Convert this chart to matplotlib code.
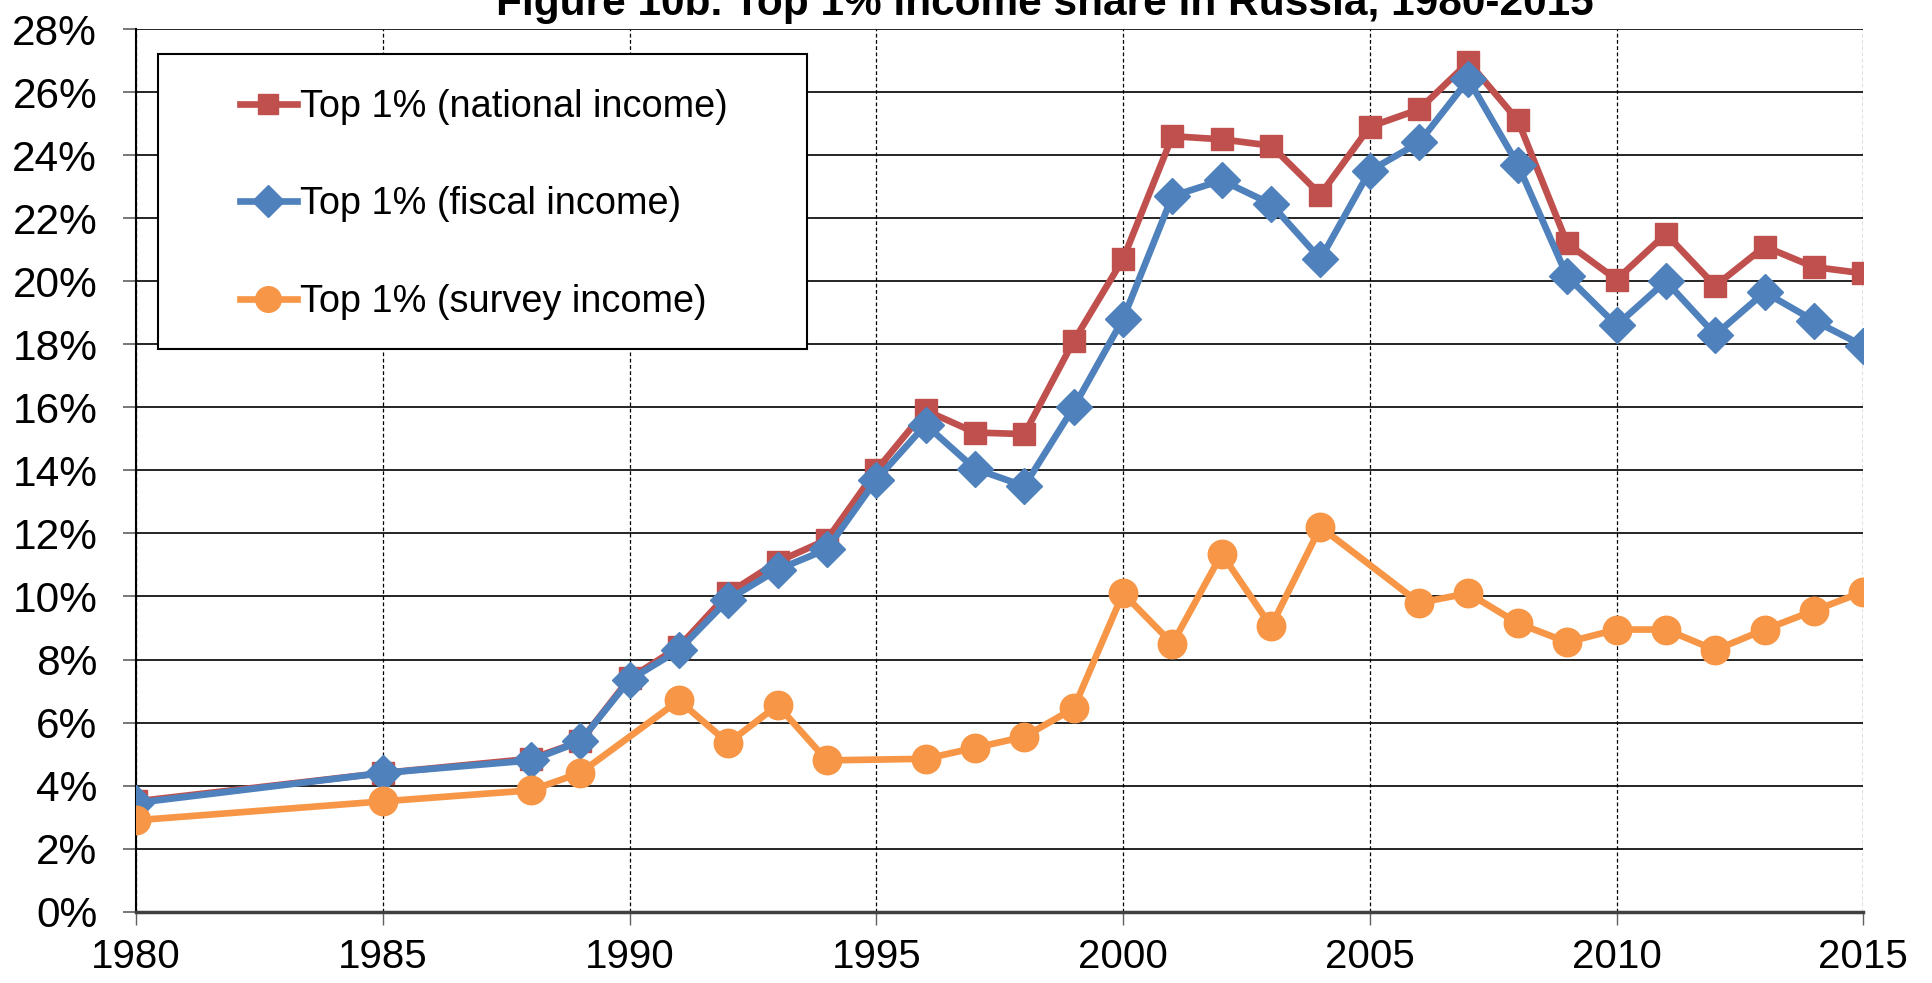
import matplotlib
matplotlib.use("Agg")
import matplotlib.pyplot as plt
from matplotlib.patches import Rectangle
from matplotlib.ticker import FuncFormatter, MultipleLocator

plt.rcParams['font.family'] = ['Liberation Sans', 'DejaVu Sans']

# ---- data ----
title = "Figure 10b. Top 1% income share in Russia, 1980-2015"

years_fiscal = [1980, 1985, 1988, 1989, 1990, 1991, 1992, 1993, 1994, 1995, 1996, 1997,
                1998, 1999, 2000, 2001, 2002, 2003, 2004, 2005, 2006, 2007, 2008, 2009,
                2010, 2011, 2012, 2013, 2014, 2015]
national = [3.5, 4.4, 4.85, 5.4, 7.4, 8.4, 10.1, 11.1, 11.8, 14.0, 15.9, 15.2,
            15.15, 18.1, 20.7, 24.6, 24.5, 24.3, 22.75, 24.9, 25.45, 26.95, 25.1, 21.2,
            20.05, 21.5, 19.85, 21.1, 20.45, 20.25]
fiscal = [3.45, 4.4, 4.8, 5.4, 7.35, 8.3, 9.9, 10.85, 11.5, 13.7, 15.45, 14.05,
          13.5, 16.0, 18.8, 22.7, 23.2, 22.45, 20.7, 23.5, 24.4, 26.4, 23.7, 20.15,
          18.6, 20.0, 18.3, 19.65, 18.75, 17.95]

years_survey = [1980, 1985, 1988, 1989, 1991, 1992, 1993, 1994, 1996, 1997, 1998, 1999,
                2000, 2001, 2002, 2003, 2004, 2006, 2007, 2008, 2009, 2010, 2011, 2012,
                2013, 2014, 2015]
survey = [2.9, 3.5, 3.85, 4.4, 6.7, 5.35, 6.55, 4.8, 4.85, 5.2, 5.55, 6.45,
          10.1, 8.5, 11.35, 9.05, 12.2, 9.8, 10.1, 9.15, 8.55, 8.95, 8.95, 8.3,
          8.95, 9.55, 10.15]

labels = ["Top 1% (national income)", "Top 1% (fiscal income)", "Top 1% (survey income)"]
colors = ["#C0504D", "#4F81BD", "#F79646"]
x_ticks = [1980, 1985, 1990, 1995, 2000, 2005, 2010, 2015]

# ---- figure ----
W, H = 1932, 983
fig = plt.figure(figsize=(W / 100, H / 100), dpi=100)
x0, x1 = 136, 1863.3
y_top, y_bot = 29, 911.7
ax = fig.add_axes([x0 / W, 1 - y_bot / H, (x1 - x0) / W, (y_bot - y_top) / H])

ax.plot(years_fiscal, national, color=colors[0], lw=4.8, marker='s', ms=16.5,
        label=labels[0], zorder=3, solid_joinstyle='round')
ax.plot(years_fiscal, fiscal, color=colors[1], lw=4.8, marker='D', ms=18,
        label=labels[1], zorder=4, solid_joinstyle='round')
ax.plot(years_survey, survey, color=colors[2], lw=4.8, marker='o', ms=20.5,
        label=labels[2], zorder=5, solid_joinstyle='round')

ax.set_xlim(1980, 2015)
ax.set_ylim(0, 28)
ax.set_xticks(x_ticks)
ax.yaxis.set_major_locator(MultipleLocator(2))
ax.yaxis.set_major_formatter(FuncFormatter(lambda v, p: f"{int(round(v))}%"))

ax.grid(axis='y', color='black', lw=1.2, ls='-', zorder=1)
ax.grid(axis='x', color='black', lw=0.9, ls=(0, (3, 2)), zorder=1)
ax.set_axisbelow(True)

for s in ['top', 'right']:
    ax.spines[s].set_visible(False)
ax.spines['left'].set_color('black')
ax.spines['left'].set_linewidth(1.5)
ax.spines['bottom'].set_color('#404040')
ax.spines['bottom'].set_linewidth(2.5)

ax.tick_params(axis='y', direction='out', length=9.4, width=1.2, color='#606060',
               pad=18.5, labelsize=30.5)
ax.tick_params(axis='x', direction='out', length=9.4, width=1.0, color='#606060',
               pad=9.5, labelsize=29)

# legend box
rect = Rectangle((158 / W, 1 - 349 / H), 649 / W, 295 / H, transform=fig.transFigure,
                 facecolor='white', edgecolor='black', lw=1.5, zorder=6, clip_on=False)
ax.add_patch(rect)
leg = ax.legend(loc='upper left', bbox_to_anchor=(240 / W, 1 - 89 / H),
                bbox_transform=fig.transFigure, frameon=False, fontsize=27.3,
                borderpad=0, borderaxespad=0, labelspacing=1.62, handlelength=1.5,
                handletextpad=0.08, markerscale=0.9)
leg.set_zorder(7)

fig.text(1045 / W, 1 - 15 / H, title, ha='center', va='baseline', fontsize=30.5,
         fontweight='bold')

fig.savefig("out.png", dpi=100)
